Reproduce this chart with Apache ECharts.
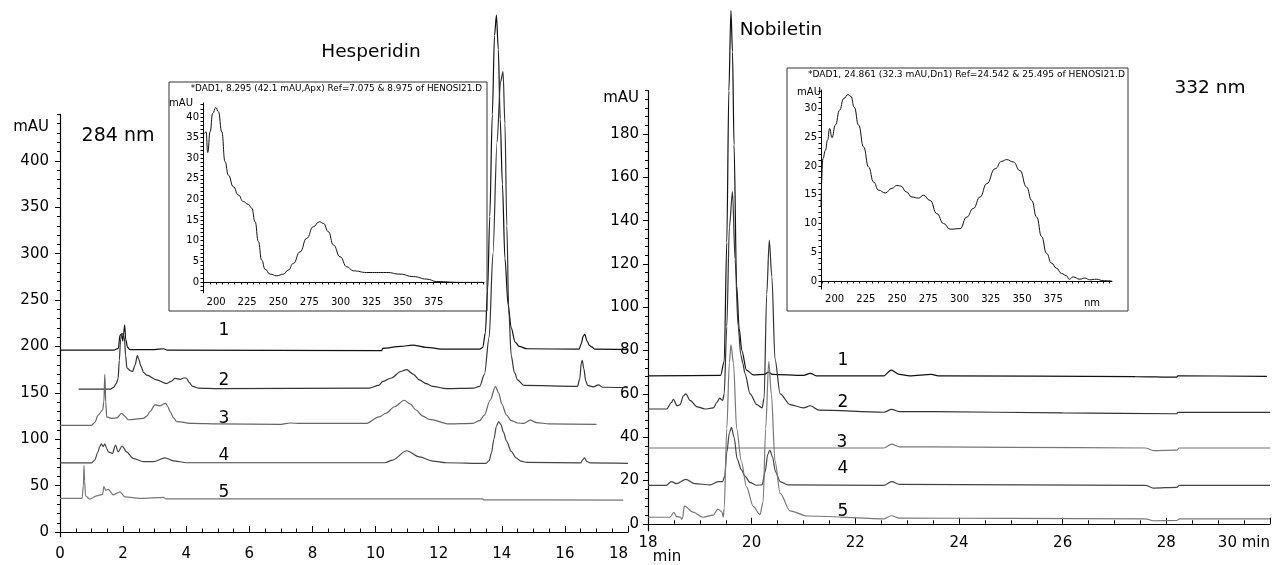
<!DOCTYPE html>
<html><head><meta charset="utf-8">
<script src="https://cdn.jsdelivr.net/npm/echarts@6/dist/echarts.min.js"></script>
<style>html,body{margin:0;padding:0;background:#fff}#c{width:1273px;height:565px}</style>
</head><body><div id="c"></div>
<script>
// ---------- tick labels ----------
const leftYLabels = [0,50,100,150,200,250,300,350,400];
const leftYMinor = [0,10,20,30,40,50,60,70,80,90,100,110,120,130,140,150,160,170,180,190,200,210,220,230,240,250,260,270,280,290,300,310,320,330,340,350,360,370,380,390,400,410,420,430,440,450];
const rightYLabels = [0,20,40,60,80,100,120,140,160,180];
const rightYMinor = [0,4,8,12,16,20,24,28,32,36,40,44,48,52,56,60,64,68,72,76,80,84,88,92,96,100,104,108,112,116,120,124,128,132,136,140,144,148,152,156,160,164,168,172,176,180,184,188,192,196,200];
const insetXLabels = [200,225,250,275,300,325,350,375];
const insetXTicksLeft = [190,195,200,205,210,215,220,225,230,235,240,245,250,255,260,265,270,275,280,285,290,295,300,305,310,315,320,325,330,335,340,345,350,355,360,365,370,375,380,385,390,395,400,405,410,415];
const insetXTicksRight = [190,195,200,205,210,215,220,225,230,235,240,245,250,255,260,265,270,275,280,285,290,295,300,305,310,315,320,325,330,335,340,345,350,355,360,365,370,375,380,385,390,395,400,405,410,415,420];
const leftInsetYLabels = [0,5,10,15,20,25,30,35,40];
const leftInsetYTicks = [-2,-1,0,1,2,3,4,5,6,7,8,9,10,11,12,13,14,15,16,17,18,19,20,21,22,23,24,25,26,27,28,29,30,31,32,33,34,35,36,37,38,39,40,41,42,43];
const rightInsetYLabels = [0,5,10,15,20,25,30];
const rightInsetYTicks = [-1,0,1,2,3,4,5,6,7,8,9,10,11,12,13,14,15,16,17,18,19,20,21,22,23,24,25,26,27,28,29,30,31,32,33];

// ---------- 284 nm chromatograms (time min, mAU) ----------
const left1 = [[0,196],[1.7,196],[1.85,198],[1.9,212],[1.95,213],[1.99,206],[2.02,215],[2.05,223],[2.08,208],[2.14,199],[2.22,196.5],[3.0,196.5],[3.28,197.5],[3.4,196],[10.2,195.5],[10.22,198],[10.8,200],[11.17,201.5],[11.6,199],[12.2,197],[13.3,197],[13.4,199],[13.48,215],[13.55,260],[13.62,340],[13.7,450],[13.77,535],[13.83,557],[13.89,520],[13.95,445],[14.02,375],[14.1,295],[14.2,245],[14.3,220],[14.42,205],[14.55,200],[14.8,197.5],[16.45,197],[16.52,203],[16.58,211],[16.63,213],[16.7,206],[16.78,201],[16.85,199.5],[16.95,197],[18,196.5]];
const left2 = [[0.59,154],[1.6,154],[1.7,156],[1.78,160],[1.84,165],[1.88,185],[1.92,208],[1.96,214],[2.0,213],[2.04,209],[2.08,190],[2.12,177],[2.22,174],[2.3,173],[2.38,180],[2.45,190],[2.5,186],[2.56,179],[2.65,172],[2.75,169],[3.06,164],[3.38,160],[3.5,162],[3.65,165.5],[3.81,164.5],[3.92,166],[4.0,166],[4.1,161],[4.2,157],[4.4,155],[5,154.5],[9.8,155],[10.1,158],[10.22,162],[10.5,166],[10.8,173],[10.98,175],[11.2,170],[11.39,164],[11.6,160],[11.81,157],[12.24,154.5],[13.1,155],[13.3,157],[13.45,170],[13.6,210],[13.72,300],[13.85,420],[13.96,485],[14.04,496],[14.1,440],[14.16,330],[14.22,240],[14.3,190],[14.4,172],[14.5,164],[14.7,158],[16.4,157],[16.47,165],[16.52,182],[16.55,185],[16.6,176],[16.66,163],[16.72,158],[16.9,156.5],[17.06,158.5],[17.2,156],[18,155.5]];
const left3 = [[0,115],[1.0,115],[1.1,118],[1.21,126],[1.35,131.5],[1.39,140],[1.42,170],[1.45,140],[1.48,124],[1.63,122.5],[1.8,123],[1.95,128],[2.05,125],[2.16,121],[2.64,122.5],[2.75,125],[2.85,129.6],[3.01,137],[3.17,136],[3.28,138],[3.35,138.7],[3.42,135],[3.49,129.6],[3.6,123],[3.7,119],[4.23,117],[5,116.5],[7.0,116],[7.3,117.5],[7.6,117],[9.7,117],[10.11,124],[10.33,128],[10.6,135],[10.91,142],[11.1,138],[11.28,131.5],[11.5,125],[11.7,121.5],[12.34,116.5],[13.08,117],[13.3,120],[13.45,126],[13.63,142],[13.8,156.6],[13.9,150],[14.0,138],[14.15,126],[14.3,120],[14.5,117.5],[14.7,117],[14.9,120.5],[15.1,118],[15.5,116.5],[17.0,116]];
const left4 = [[0,74.5],[1.0,74.5],[1.1,77.6],[1.2,86],[1.26,92],[1.31,95],[1.37,92],[1.42,95],[1.48,90],[1.53,86.5],[1.66,84.8],[1.76,93.7],[1.84,86.5],[1.97,92.7],[2.11,86.5],[2.32,79.4],[2.64,75.8],[2.96,75.8],[3.33,80],[3.59,76.8],[4.02,74.7],[10.3,74.7],[10.54,77.6],[10.98,87.6],[11.39,81],[11.81,76.5],[12.24,74.7],[13.5,74],[13.6,77],[13.67,85],[13.75,100],[13.83,114],[13.9,119],[13.97,116],[14.05,108],[14.15,98],[14.3,87],[14.45,80],[14.6,76.5],[14.8,75],[16.5,74.5],[16.57,78],[16.62,80],[16.7,76],[16.8,74.5],[18,74]];
const left5 = [[0,36.3],[0.7,36.3],[0.74,50],[0.76,72],[0.78,55],[0.81,39],[0.94,35.5],[1.16,39],[1.35,40.5],[1.39,49],[1.45,45],[1.53,46],[1.69,40],[1.9,43.4],[2.06,38],[2.53,36.3],[3.28,37.4],[3.35,35.8],[13.4,35.8],[13.42,34.6],[17.85,34.5]];

// ---------- 332 nm chromatograms (time min, mAU) ----------
const right1 = [[18,68.3],[19.4,68.5],[19.47,75],[19.52,130],[19.56,200],[19.6,237],[19.63,218],[19.66,175],[19.71,110],[19.76,90],[19.81,80],[19.9,71],[20.03,68.8],[20.25,69],[20.32,70],[20.4,69],[21.0,68.5],[21.13,69.5],[21.25,68.3],[22.55,68.3],[22.69,71],[22.85,69],[23.05,68.3],[23.47,69],[23.6,68.3],[27.4,68],[28.2,67.7],[28.22,68.3],[29.94,68.1]];
const right2 = [[18,53],[18.36,53],[18.45,56],[18.49,57.5],[18.56,54.5],[18.62,55],[18.68,59],[18.73,60],[18.81,57],[18.95,54],[19.1,53],[19.26,53.5],[19.33,56],[19.38,58],[19.44,57],[19.47,60],[19.52,91],[19.57,137],[19.63,153.4],[19.68,122],[19.74,91],[19.79,78],[19.83,74],[19.87,69.5],[19.97,60],[20.1,55],[20.2,53.5],[20.24,58],[20.29,106],[20.34,131],[20.39,114],[20.45,76],[20.55,60],[20.74,55],[21.0,53.5],[21.13,54.5],[21.3,52.5],[22.55,51.5],[22.7,52.8],[22.85,51.8],[23.5,51.8],[26,51.2],[28.2,50.8],[28.22,51.4],[30,51.4]];
const right3 = [[18,35],[22.55,35],[22.7,36.8],[22.85,35.5],[23.5,35.5],[25,35.3],[27.6,35],[27.75,33.8],[28.2,34],[28.25,35],[30,35]];
const right4 = [[18,17.7],[18.35,17.7],[18.45,19.5],[18.55,18.5],[18.73,20.5],[18.9,18.5],[19.2,18],[19.35,19.5],[19.44,19.5],[19.48,22],[19.52,33],[19.57,42],[19.61,44.5],[19.66,40],[19.72,30],[19.8,25],[19.87,22],[19.97,19],[20.1,17.8],[20.2,18],[20.26,24],[20.31,32],[20.35,34],[20.4,31],[20.46,24],[20.55,19.5],[20.7,18],[22.55,17.7],[22.7,19.5],[22.85,18.2],[27.6,17.7],[27.75,16.5],[28.2,16.8],[28.25,17.7],[30,17.7]];
const right5 = [[18,3],[18.42,3],[18.5,5.3],[18.55,3.3],[18.63,3],[18.65,2],[18.67,3],[18.7,8.2],[18.87,5.4],[19.06,3],[19.26,4],[19.35,6.8],[19.43,5.3],[19.45,3],[19.47,7],[19.52,44],[19.57,74.5],[19.6,82.6],[19.65,74],[19.71,44],[19.8,29],[19.9,17],[20.03,8],[20.16,4.2],[20.22,10],[20.27,44],[20.33,75],[20.38,60],[20.45,29],[20.55,14],[20.74,6],[21.07,3.6],[22.55,2.3],[22.7,3.7],[22.85,2.6],[25,2.5],[27.6,2.3],[27.75,1.4],[28.2,1.5],[28.25,2.3],[30,2.3]];

// ---------- UV spectra (nm, mAU) ----------
const spectrumHesperidin = [[190.6,36],[192,36.4],[193.3,31.4],[195.2,36.4],[197.3,40.9],[199.8,42.3],[201.9,41.3],[204.6,36.4],[207.2,29.2],[209.9,25.9],[213.9,23.1],[217.9,21.1],[221.9,19.5],[226,18.8],[228.7,17.9],[231.4,14.6],[234,9.8],[236.7,5.3],[239.4,3.1],[243.4,1.9],[248.8,1.5],[254.1,1.9],[258.1,2.9],[262.1,4.5],[267.5,7.3],[272.9,10.6],[278.2,13.4],[283,14.6],[286.3,14.2],[290.3,12.2],[294.3,9],[299.7,6.1],[305.1,3.7],[310.4,2.7],[321.1,2.3],[337.2,2.3],[347.9,1.9],[358.6,1.3],[369.4,0.7],[377.4,0.1],[396,-0.1],[414.9,-0.1]];
const spectrumNobiletin = [[189.1,12.9],[190.7,21.3],[192.6,22.7],[194.4,24.5],[196,26.5],[197.9,24.9],[200.6,27.1],[204,29.7],[207.2,31.7],[210.7,32.4],[213.1,32.1],[215.7,30.2],[219.2,27.1],[223.2,23.3],[227.2,19.8],[231.2,17.2],[235.1,15.8],[240.5,15.3],[245.8,16.1],[249.8,16.6],[253,16.5],[257.3,15.5],[261.8,14.6],[267.1,14.4],[271.1,14.9],[276.4,14],[281.8,11.7],[287.1,10],[292.4,9],[300.4,9.1],[305.7,11.1],[311,12.6],[316.4,14.6],[321.7,16.9],[328.4,19.5],[333.7,20.8],[337.7,21.1],[343,20.7],[348.3,19.2],[353.7,16.3],[357.7,14],[361.7,11.1],[365.7,7.7],[369.6,4.8],[373.6,3.1],[377.6,2.2],[381.6,1.3],[385.6,0.9],[387.7,0.3],[390.9,0.7],[396.2,0.3],[400.2,0.5],[404.2,0.2],[409.6,0.3],[414.9,0.05],[421.6,0]];

const FONT = 'DejaVu Sans';
const chart = echarts.init(document.getElementById('c'), null, {renderer: 'canvas'});

function mainLine(name, data, xi, yi, color) {
  return {name, type: 'line', data, xAxisIndex: xi, yAxisIndex: yi, showSymbol: false, clip: false,
    smooth: 0.3, smoothMonotone: 'x', lineStyle: {color, width: 1.2}, silent: true, z: 3};
}
function txt(text, x, y, size, align) {
  return {type: 'text', x, y, style: {text, font: size + 'px "' + FONT + '"', fill: '#000', align: align || 'center', verticalAlign: 'middle'}, z: 10};
}
const axisLbl = {color: '#000', fontFamily: FONT, fontSize: 15};
const insetLbl = {color: '#000', fontFamily: FONT, fontSize: 10};

const option = {
  animation: false,
  backgroundColor: '#fff',
  grid: [
    {left: 60, top: 114.4, width: 568, height: 422.3},
    {left: 648, top: 90.7, width: 622, height: 440},
    {left: 203, top: 103, width: 281, height: 189.7},
    {left: 821, top: 90, width: 291, height: 199}
  ],
  xAxis: [
    {gridIndex: 0, type: 'value', min: 0, max: 18, interval: 2,
      axisLine: {lineStyle: {color: '#000', width: 1.2}}, splitLine: {show: false},
      axisTick: {inside: true, length: 6, lineStyle: {color: '#000'}},
      minorTick: {show: true, splitNumber: 4, length: 3.5, lineStyle: {color: '#000'}},
      axisLabel: Object.assign({margin: 10, alignMaxLabel: 'right'}, axisLbl)},
    {gridIndex: 1, type: 'value', min: 18, max: 30, interval: 2,
      axisLine: {lineStyle: {color: '#000', width: 1.2}}, splitLine: {show: false},
      axisTick: {inside: true, length: 6, lineStyle: {color: '#000'}},
      minorTick: {show: true, splitNumber: 4, length: 3.5, lineStyle: {color: '#000'}},
      axisLabel: Object.assign({margin: 5, alignMaxLabel: 'right', formatter: v => v === 30 ? '30 min' : String(v)}, axisLbl)},
    {gridIndex: 2, type: 'value', min: 189.5, max: 415.4,
      axisLine: {lineStyle: {color: '#000'}}, splitLine: {show: false},
      axisTick: {customValues: insetXTicksLeft, length: 2.5, lineStyle: {color: '#000'}},
      axisLabel: Object.assign({customValues: insetXLabels, margin: 5}, insetLbl)},
    {gridIndex: 3, type: 'value', min: 189.1, max: 422,
      axisLine: {lineStyle: {color: '#000'}}, splitLine: {show: false},
      axisTick: {customValues: insetXTicksRight, length: 2.5, lineStyle: {color: '#000'}},
      axisLabel: Object.assign({customValues: insetXLabels, margin: 5}, insetLbl)}
  ],
  yAxis: [
    {gridIndex: 0, type: 'value', position: 'left', min: -5, max: 450,
      axisLine: {show: true, lineStyle: {color: '#000', width: 1.2}}, splitLine: {show: false},
      axisTick: {show: true, customValues: leftYLabels, length: 5, lineStyle: {color: '#000'}},
      axisLabel: Object.assign({customValues: leftYLabels, margin: 11}, axisLbl)},
    {gridIndex: 0, type: 'value', position: 'left', offset: 0, min: -5, max: 450,
      axisLine: {show: false}, splitLine: {show: false},
      axisTick: {show: true, customValues: leftYMinor, length: 3, lineStyle: {color: '#000'}},
      axisLabel: {show: false}},
    {gridIndex: 1, type: 'value', position: 'left', min: -3.2, max: 200,
      axisLine: {show: true, lineStyle: {color: '#000', width: 1.2}}, splitLine: {show: false},
      axisTick: {show: true, customValues: rightYLabels, length: 5, lineStyle: {color: '#000'}},
      axisLabel: Object.assign({customValues: rightYLabels, margin: 9}, axisLbl)},
    {gridIndex: 1, type: 'value', position: 'left', offset: 0, min: -3.2, max: 200,
      axisLine: {show: false}, splitLine: {show: false},
      axisTick: {show: true, customValues: rightYMinor, length: 3, lineStyle: {color: '#000'}},
      axisLabel: {show: false}},
    {gridIndex: 2, type: 'value', position: 'left', min: -2.6, max: 43.4,
      axisLine: {show: true, lineStyle: {color: '#000'}}, splitLine: {show: false},
      axisTick: {show: true, customValues: leftInsetYTicks, length: 2.5, lineStyle: {color: '#000'}},
      axisLabel: Object.assign({customValues: leftInsetYLabels, margin: 4}, insetLbl)},
    {gridIndex: 3, type: 'value', position: 'left', min: -1.4, max: 33.2,
      axisLine: {show: true, lineStyle: {color: '#000'}}, splitLine: {show: false},
      axisTick: {show: true, customValues: rightInsetYTicks, length: 2.5, lineStyle: {color: '#000'}},
      axisLabel: Object.assign({customValues: rightInsetYLabels, margin: 4}, insetLbl)}
  ],
  series: [
    mainLine('284-1', left1, 0, 0, '#111'),
    mainLine('284-2', left2, 0, 0, '#333'),
    mainLine('284-3', left3, 0, 0, '#666'),
    mainLine('284-4', left4, 0, 0, '#444'),
    mainLine('284-5', left5, 0, 0, '#777'),
    mainLine('332-1', right1, 1, 2, '#111'),
    mainLine('332-2', right2, 1, 2, '#333'),
    mainLine('332-3', right3, 1, 2, '#777'),
    mainLine('332-4', right4, 1, 2, '#444'),
    mainLine('332-5', right5, 1, 2, '#777'),
    {name: 'UV Hesperidin', type: 'line', data: spectrumHesperidin, xAxisIndex: 2, yAxisIndex: 4, showSymbol: false,
      smooth: 0.5, smoothMonotone: 'x', lineStyle: {color: '#111', width: 1}, silent: true},
    {name: 'UV Nobiletin', type: 'line', data: spectrumNobiletin, xAxisIndex: 3, yAxisIndex: 5, showSymbol: false,
      smooth: 0.5, smoothMonotone: 'x', lineStyle: {color: '#111', width: 1}, silent: true}
  ],
  graphic: [
    {type: 'rect', shape: {x: 169, y: 82, width: 318, height: 229}, style: {fill: 'none', stroke: '#333', lineWidth: 1}, z: 5},
    {type: 'rect', shape: {x: 787, y: 68, width: 341, height: 243}, style: {fill: 'none', stroke: '#333', lineWidth: 1}, z: 5},
    txt('*DAD1, 8.295 (42.1 mAU,Apx) Ref=7.075 & 8.975 of HENOSI21.D', 482, 89, 8.9, 'right'),
    txt('*DAD1, 24.861 (32.3 mAU,Dn1) Ref=24.542 & 25.495 of HENOSI21.D', 1125, 75, 9.1, 'right'),
    txt('mAU', 181, 103, 10),
    txt('mAU', 809, 92, 10),
    txt('nm', 1092, 303, 10),
    txt('mAU', 49, 127, 15, 'right'),
    txt('mAU', 639, 98, 15, 'right'),
    txt('284 nm', 118, 136, 19),
    txt('Hesperidin', 371, 52, 18.5),
    txt('Nobiletin', 781, 30, 18.5),
    txt('332 nm', 1210, 88, 18.5),
    txt('min', 667, 557, 15),
    txt('1', 224, 331, 17), txt('2', 224, 381, 17), txt('3', 224, 419, 17), txt('4', 224, 456, 17), txt('5', 224, 493, 17),
    txt('1', 843, 361, 17), txt('2', 843, 403, 17), txt('3', 842, 443, 17), txt('4', 843, 469, 17), txt('5', 843, 512, 17)
  ]
};
chart.setOption(option);
</script>
</body></html>
